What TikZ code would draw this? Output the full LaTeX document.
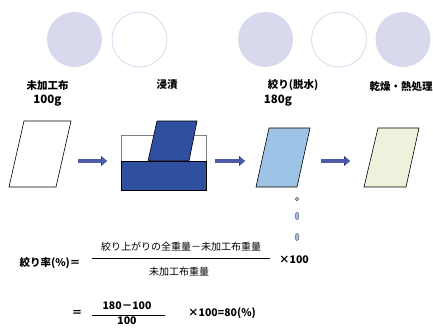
\documentclass[tikz,border=0pt]{standalone}
\usepackage{fontspec}
\setmainfont{Noto Sans CJK JP}
\usepackage{tikz}
\usetikzlibrary{positioning, arrows.meta}

\definecolor{lavender}{HTML}{D9D9EE}
\definecolor{soakblue}{HTML}{2F4FA0}
\definecolor{wetblue}{HTML}{9DC3E6}
\definecolor{drycream}{HTML}{EEF2DC}
\definecolor{flowblue}{HTML}{4B5BA8}
\definecolor{flowdark}{HTML}{2A3070}

\tikzset{
  step label/.style={font=\fontsize{10.5}{12}\selectfont\bfseries, inner sep=0pt},
  step weight/.style={font=\fontsize{11.5}{12}\selectfont\bfseries, inner sep=0pt},
  eq text/.style={font=\fontsize{10}{12}\selectfont, inner sep=0pt},
  eq bold/.style={font=\fontsize{10.5}{12}\selectfont\bfseries, inner sep=0pt},
  cloth/.style={draw=black, line width=0.6pt},
  flow/.style={draw=flowblue, line width=3.2pt, -{Triangle[length=5pt,width=8pt]},
    preaction={draw=flowdark, line width=4.4pt, -{Triangle[length=6pt,width=9.6pt]}}},
  drop/.style={fill=wetblue, draw=black!70, line width=0.4pt}
}

\begin{document}
\begin{tikzpicture}[x=1pt, y=-1pt]
  \useasboundingbox (0,0) rectangle (433,327);

  % circles across the top
  \fill[lavender] (74.5,39.5) circle (27.5);
  \draw[lavender, line width=0.8pt] (139.5,39.5) circle (27.5);
  \fill[lavender] (265.5,39.5) circle (27.5);
  \draw[lavender, line width=0.8pt] (339,39.5) circle (27.5);
  \fill[lavender] (403,39.5) circle (27.5);

  % step labels
  \node[step label] (raw) at (47.5,85) {未加工布};
  \node[step weight] (rawg) at (47.5,101) {100g};
  \node[step label] (soak) at (167,85) {浸漬};
  \node[step label] (wring) at (293,85) {絞り(脱水)};
  \node[step weight] (wringg) at (278,101) {180g};
  \node[step label] (dry) at (401,87) {乾燥・熱処理};

  % raw cloth
  \draw[cloth, fill=white] (24,121) -- (71,121) -- (56,187) -- (9,187) -- cycle;

  % soaking tank
  \draw[black!50, line width=0.6pt] (121,135) rectangle (206,190);
  \draw[cloth, fill=soakblue] (157,121) -- (197,121) -- (189,161) -- (148,161) -- cycle;
  \draw[cloth, fill=soakblue] (121,161) rectangle (206,190);

  % wrung cloth and dripping water
  \draw[cloth, fill=wetblue] (269,128) -- (310,128) -- (297,187) -- (256,187) -- cycle;
  \draw[drop] (297,199) circle (1.8);
  \draw[drop] (297,216) ellipse (2 and 3.6);
  \draw[drop] (297,237) ellipse (2 and 3.6);

  % dried cloth
  \draw[cloth, fill=drycream] (378,128) -- (419,128) -- (406,187) -- (364,187) -- cycle;

  % flow arrows
  \coordinate (f1s) at (78,161);  \coordinate (f1e) at (107,161);
  \coordinate (f2s) at (215,161); \coordinate (f2e) at (245,161);
  \coordinate (f3s) at (321,161); \coordinate (f3e) at (350,161);
  \draw[flow] (f1s) -- (f1e);
  \draw[flow] (f2s) -- (f2e);
  \draw[flow] (f3s) -- (f3e);

  % wringing rate formula
  \node[eq bold] (rate) at (50,263) {絞り率(\%)＝};
  \node[eq text] (num) at (181,247) {絞り上がりの全重量－未加工布重量};
  \node[eq text] (den) at (179,272) {未加工布重量};
  \draw[line width=0.6pt] (92,258) -- (270,258);
  \node[eq bold] (times) at (294,260) {×100};

  \node[eq bold] (eq2) at (77,313) {＝};
  \node[eq bold] (num2) at (127,306) {180－100};
  \node[eq bold] (den2) at (127,321) {100};
  \draw[line width=0.6pt] (92,315) -- (165,315);
  \node[eq bold] (res) at (222,313) {×100=80(\%)};
\end{tikzpicture}
\end{document}
